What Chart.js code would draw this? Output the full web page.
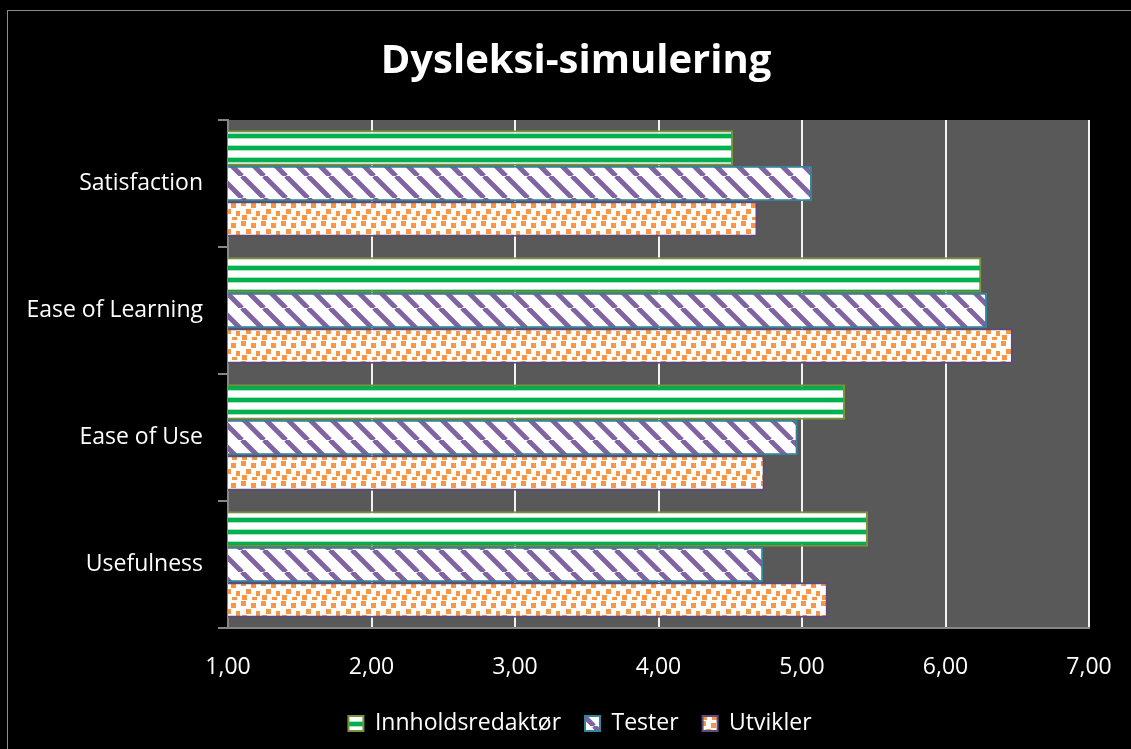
<!DOCTYPE html>
<html>
<head>
<meta charset="utf-8">
<script src="https://cdn.jsdelivr.net/npm/chart.js@4"></script>
<style>
  html, body { margin: 0; padding: 0; background: #000; }
  #wrap { width: 1131px; height: 749px; }
</style>
</head>
<body>
<div id="wrap"><canvas id="chart" width="1131" height="749"></canvas></div>
<script>
// data
const categories = ['Satisfaction', 'Ease of Learning', 'Ease of Use', 'Usefulness'];
const seriesNames = ['Innholdsredaktør', 'Tester', 'Utvikler'];
const innholdsredaktor = [4.52, 6.25, 5.30, 5.46];
const tester = [5.07, 6.29, 4.97, 4.73];
const utvikler = [4.69, 6.47, 4.74, 5.18];
const xTicks = [1, 2, 3, 4, 5, 6, 7];

// patterns
function stripePattern() {
    const c = document.createElement('canvas');
    c.width = 12; c.height = 12;
    const g = c.getContext('2d');
    g.fillStyle = '#ffffff';
    g.fillRect(0, 0, 12, 12);
    g.fillStyle = '#a8e4bd';
    g.fillRect(0, 1, 12, 1);
    g.fillRect(0, 6, 12, 1);
    g.fillStyle = '#00b050';
    g.fillRect(0, 2, 12, 4);
    return g.createPattern(c, 'repeat');
}

function diagPattern() {
    const s = 22;
    const c = document.createElement('canvas');
    c.width = s; c.height = s;
    const g = c.getContext('2d');
    g.fillStyle = '#ffffff';
    g.fillRect(0, 0, s, s);
    g.strokeStyle = '#8064a2';
    g.lineWidth = 5;
    for (let o = -s; o <= s; o += s) {
        g.beginPath();
        g.moveTo(o, 0);
        g.lineTo(o + s, s);
        g.stroke();
    }
    return g.createPattern(c, 'repeat');
}

function dotPattern() {
    const c = document.createElement('canvas');
    c.width = 20; c.height = 20;
    const g = c.getContext('2d');
    g.fillStyle = '#ffffff';
    g.fillRect(0, 0, 20, 20);
    g.fillStyle = '#f79646';
    const pts = [[1, 1], [11, 3], [6, 9], [16, 11], [2, 15], [12, 17]];
    pts.forEach(([x, y]) => {
        g.fillRect(x, y, 5, 5);
    });
    return g.createPattern(c, 'repeat');
}

// background, frame and plot area
const backdrop = {
    id: 'backdrop',
    afterLayout(chart) {
        // title and legend are centred on the whole picture, not on the padded box
        if (chart.titleBlock) { chart.titleBlock.left = 21; chart.titleBlock.right = 1131; }
        if (chart.legend) { chart.legend.left = 29; chart.legend.right = 1131; }
    },
    beforeDraw(chart) {
        const ctx = chart.ctx;
        const a = chart.chartArea;
        ctx.save();
        ctx.fillStyle = '#000000';
        ctx.fillRect(0, 0, chart.width, chart.height);
        ctx.fillStyle = '#8c8c8c';
        ctx.fillRect(7, 10, chart.width - 7, 1);
        ctx.fillRect(7, 10, 1, chart.height - 10);
        ctx.fillStyle = '#595959';
        ctx.fillRect(a.left, a.top, a.right - a.left, a.bottom - a.top);
        ctx.restore();
    }
};

const font = "'Open Sans', sans-serif";

new Chart(document.getElementById('chart'), {
    type: 'bar',
    data: {
        labels: categories,
        datasets: [
            { label: seriesNames[0], data: innholdsredaktor, backgroundColor: stripePattern(), borderColor: '#77933c', borderWidth: 2 },
            { label: seriesNames[1], data: tester, backgroundColor: diagPattern(), borderColor: '#31859c', borderWidth: 2 },
            { label: seriesNames[2], data: utvikler, backgroundColor: dotPattern(), borderColor: '#604a7b', borderWidth: 2 }
        ]
    },
    options: {
        indexAxis: 'y',
        responsive: false,
        animation: false,
        devicePixelRatio: 1,
        layout: { padding: { left: 8, right: 42, top: 0, bottom: 4 } },
        datasets: { bar: { categoryPercentage: 0.84, barPercentage: 1 } },
        scales: {
            x: {
                min: 1,
                max: 7,
                afterBuildTicks(scale) {
                    scale.ticks = xTicks.map(v => ({ value: v }));
                },
                afterFit(scale) {
                    scale.height = 60;
                    scale.paddingLeft = 0;
                    scale.paddingRight = 0;
                },
                border: { display: true, color: '#868686', width: 2 },
                grid: {
                    color: ctx => ctx.index === 0 ? 'rgba(0,0,0,0)' : '#f2f2f2',
                    lineWidth: 2,
                    drawTicks: false
                },
                ticks: {
                    color: '#ffffff',
                    font: { family: font, size: 23 },
                    padding: 26,
                    callback: v => v.toFixed(2).replace('.', ',')
                }
            },
            y: {
                afterFit(scale) { scale.width = 220; },
                border: { display: true, color: '#868686', width: 2 },
                grid: {
                    offset: true,
                    drawOnChartArea: false,
                    color: '#868686',
                    tickLength: 10,
                    lineWidth: 2
                },
                ticks: {
                    color: '#ffffff',
                    font: { family: font, size: 23 },
                    padding: 15
                }
            }
        },
        plugins: {
            title: {
                display: true,
                text: 'Dysleksi-simulering',
                color: '#ffffff',
                font: { family: font, size: 40, weight: 'bold' },
                padding: { top: 38, bottom: 34 }
            },
            legend: {
                position: 'bottom',
                labels: {
                    color: '#ffffff',
                    font: { family: font, size: 23 },
                    boxWidth: 15,
                    boxHeight: 15,
                    padding: 24
                }
            },
            tooltip: { enabled: false }
        }
    },
    plugins: [backdrop]
});
</script>
</body>
</html>
